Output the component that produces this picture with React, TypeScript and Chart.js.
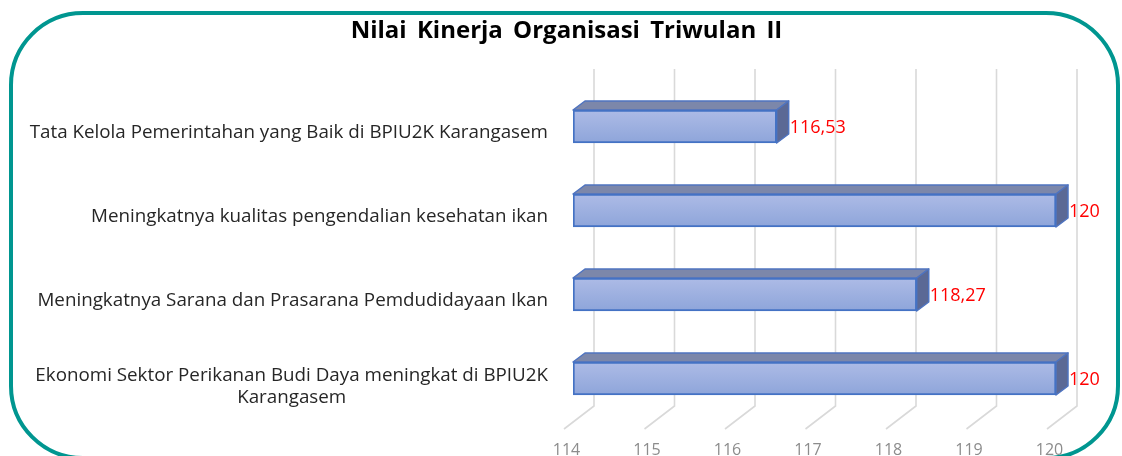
import React, { useEffect, useRef } from "react";
import { Chart, registerables } from "chart.js";

Chart.register(...registerables);

// ---- data ----
const chartTitle = "Nilai Kinerja Organisasi Triwulan II";
const categories: (string | string[])[] = [
  "Tata Kelola Pemerintahan yang Baik di BPIU2K Karangasem",
  "Meningkatnya kualitas pengendalian kesehatan ikan",
  "Meningkatnya Sarana dan Prasarana Pemdudidayaan Ikan",
  ["Ekonomi Sektor Perikanan Budi Daya meningkat di BPIU2K", "Karangasem"],
];
const values = [116.53, 120, 118.27, 120];
const xTicks = [114, 115, 116, 117, 118, 119, 120];
const xMin = 114;
const xMax = 120;

const fmt = (v: number) => String(v).replace(".", ",");

// ---- styling constants ----
const BAR_DX = 12;
const BAR_DY = -9;
const BAR_THICK = 33;
const LABEL_FONT = '18.8px "Open Sans"';

const threeD = {
  id: "threeD",
  beforeDraw(chart: any) {
    (chart.ctx as any).wordSpacing = "4px";
  },
  beforeDatasetsDraw(chart: any) {
    const { ctx, chartArea, scales } = chart;
    (ctx as any).wordSpacing = "0px";
    const xs = scales.x;
    ctx.save();
    // back wall gridlines + floor lines
    ctx.strokeStyle = "#d9d9d9";
    ctx.lineWidth = 1.6;
    const backTop = chartArea.top - 15.5;
    const backBottom = chartArea.bottom - 14.5;
    const frontY = chartArea.bottom + 8.5;
    for (const v of xTicks) {
      const px = xs.getPixelForValue(v);
      ctx.beginPath();
      ctx.moveTo(px + 21, backTop);
      ctx.lineTo(px + 21, backBottom);
      ctx.lineTo(px - 9, frontY);
      ctx.stroke();
    }
    // top & side faces of bars
    const meta = chart.getDatasetMeta(0);
    meta.data.forEach((el: any) => {
      const { x, y, base } = el.getProps(["x", "y", "base"], true);
      const yT = y - BAR_THICK / 2;
      const yB = y + BAR_THICK / 2;
      const x0 = Math.max(Math.min(base, x), chartArea.left);
      const x1 = x;
      ctx.lineJoin = "round";
      // top face
      ctx.beginPath();
      ctx.moveTo(x0, yT);
      ctx.lineTo(x0 + BAR_DX, yT + BAR_DY);
      ctx.lineTo(x1 + BAR_DX, yT + BAR_DY);
      ctx.lineTo(x1, yT);
      ctx.closePath();
      ctx.fillStyle = "#7c87aa";
      ctx.fill();
      ctx.strokeStyle = "#4f74c0";
      ctx.lineWidth = 1.5;
      ctx.stroke();
      // side face
      ctx.beginPath();
      ctx.moveTo(x1, yT);
      ctx.lineTo(x1 + BAR_DX, yT + BAR_DY);
      ctx.lineTo(x1 + BAR_DX, yB + BAR_DY);
      ctx.lineTo(x1, yB);
      ctx.closePath();
      ctx.fillStyle = "#5b6995";
      ctx.fill();
      ctx.stroke();
    });
    ctx.restore();
  },
  afterDatasetsDraw(chart: any) {
    const { ctx } = chart;
    const meta = chart.getDatasetMeta(0);
    ctx.save();
    ctx.fillStyle = "#ff0000";
    ctx.font = '18px "Open Sans"';
    ctx.textAlign = "left";
    ctx.textBaseline = "middle";
    meta.data.forEach((el: any, i: number) => {
      const { x, y } = el.getProps(["x", "y"], true);
      ctx.fillText(fmt(values[i]), x + BAR_DX + 1, y + 1.5);
    });
    ctx.restore();
  },
  afterDraw(chart: any) {
    const { ctx, scales } = chart;
    const ys = scales.y;
    ctx.save();
    // category labels
    ctx.font = LABEL_FONT;
    ctx.fillStyle = "#262626";
    ctx.textAlign = "center";
    ctx.textBaseline = "middle";
    const right = 548;
    const lh = 22;
    chart.data.labels.forEach((lab: any, i: number) => {
      const lines: string[] = Array.isArray(lab) ? lab : [lab];
      const maxW = Math.max(...lines.map((l) => ctx.measureText(l).width));
      const cx = right - maxW / 2;
      const yc = ys.getPixelForValue(i) + 6.5 + (lines.length - 1) * 2;
      lines.forEach((l, k) => {
        ctx.fillText(l, cx, yc - ((lines.length - 1) * lh) / 2 + k * lh);
      });
    });
    // rounded frame
    ctx.strokeStyle = "#009690";
    ctx.lineWidth = 4;
    ctx.beginPath();
    (ctx as any).roundRect(11, 13, 1107, 445, 72);
    ctx.stroke();
    ctx.restore();
  },
};

export default function App() {
  const ref = useRef<HTMLCanvasElement>(null);
  useEffect(() => {
    const chart = new Chart(ref.current as HTMLCanvasElement, {
      type: "bar",
      data: {
        labels: categories as any,
        datasets: [
          {
            data: values,
            base: xMin,
            barThickness: BAR_THICK,
            borderColor: "#4472c4",
            borderWidth: 2,
            borderSkipped: false,
            backgroundColor: (c: any) => {
              const chart = c.chart;
              const ys = chart.scales && chart.scales.y;
              if (!ys || c.type !== "data") return "#9aaee0";
              const yc = ys.getPixelForValue(c.dataIndex);
              if (!isFinite(yc)) return "#9aaee0";
              const g = chart.ctx.createLinearGradient(0, yc - BAR_THICK / 2, 0, yc + BAR_THICK / 2);
              g.addColorStop(0, "#adbbe6");
              g.addColorStop(1, "#8ea5da");
              return g;
            },
          },
        ],
      },
      options: {
        indexAxis: "y",
        responsive: false,
        animation: false,
        layout: { padding: { left: 11, right: 0, top: 0, bottom: 0 } },
        plugins: {
          legend: { display: false },
          tooltip: { enabled: false },
          title: {
            display: true,
            text: chartTitle,
            color: "#000000",
            font: { family: '"Open Sans"', size: 24, weight: "bold" },
            padding: { top: 17, bottom: 38.7 },
          },
        },
        scales: {
          x: {
            type: "linear",
            min: xMin,
            max: xMax,
            afterBuildTicks: (s: any) => {
              s.ticks = xTicks.map((v) => ({ value: v }));
            },
            grid: { display: false, drawTicks: false },
            border: { display: false },
            ticks: {
              color: "#8c8c8c",
              font: { family: '"Open Sans"', size: 16 },
              labelOffset: -6.5,
              padding: 20,
              maxRotation: 0,
              autoSkip: false,
            },
            afterFit: (s: any) => {
              s.height = 35.5;
            },
          },
          y: {
            type: "category",
            grid: { display: false, drawTicks: false },
            border: { display: false },
            ticks: { display: false },
            afterFit: (s: any) => {
              s.width = 562;
            },
          },
          yR: {
            type: "linear",
            position: "right",
            display: true,
            grid: { display: false, drawTicks: false },
            border: { display: false },
            ticks: { display: false },
            afterFit: (s: any) => {
              s.width = 66;
            },
          },
        },
      } as any,
      plugins: [threeD],
    });
    return () => chart.destroy();
  }, []);
  return (
    <div
      style={{
        position: "fixed",
        left: 0,
        top: 0,
        width: 1122,
        height: 456,
        overflow: "hidden",
        background: "#ffffff",
      }}
    >
      <canvas ref={ref} width={1122} height={456} style={{ display: "block" }} />
    </div>
  );
}
